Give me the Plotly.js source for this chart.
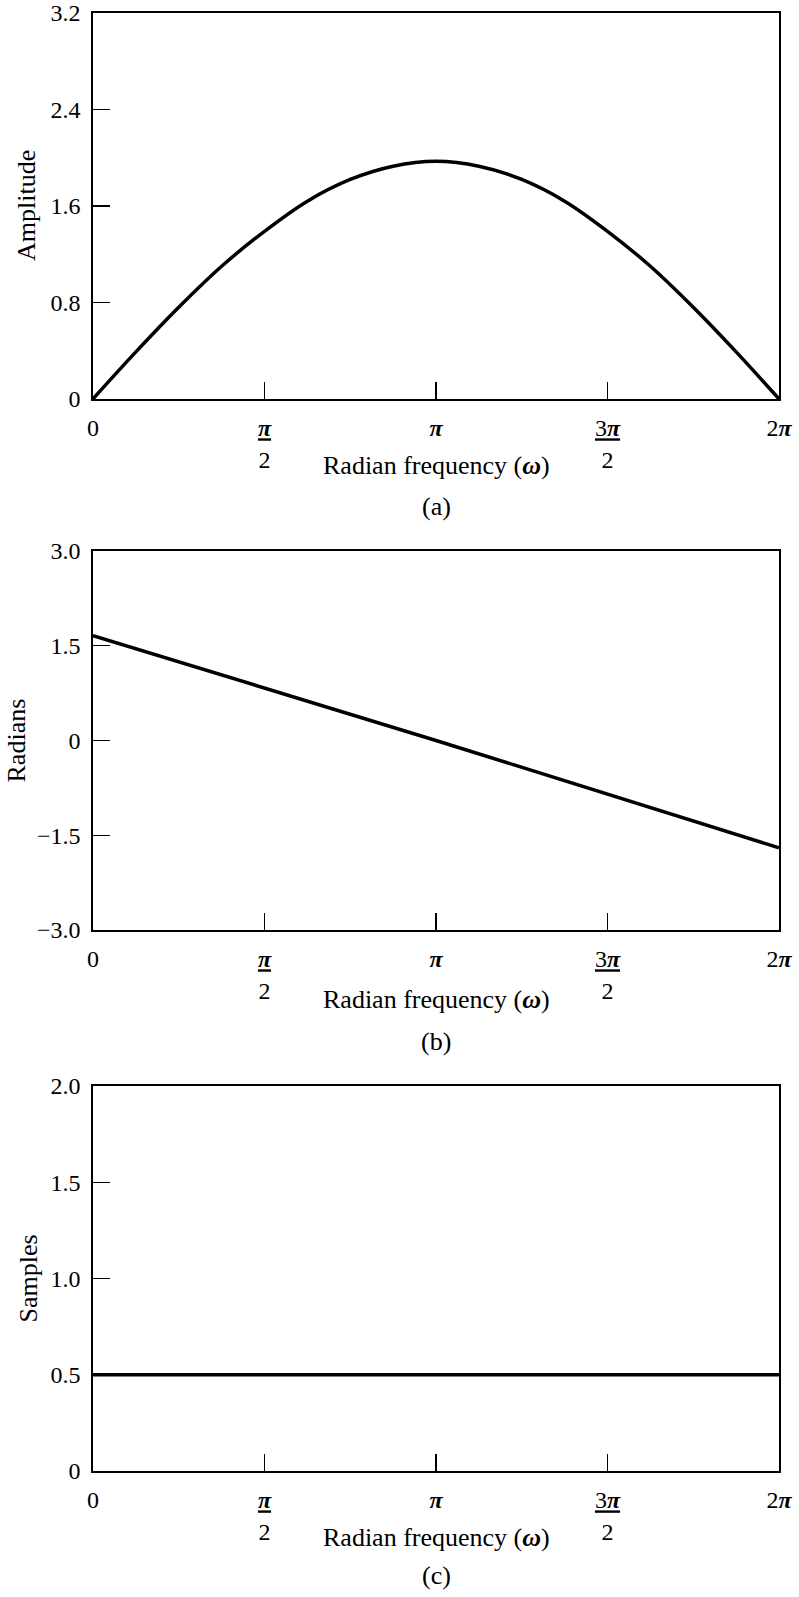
<!DOCTYPE html>
<html>
<head>
<meta charset="utf-8">
<script src="https://cdn.plot.ly/plotly-3.0.1.min.js"></script>
<style>
html,body{margin:0;padding:0;background:#fff;}
#chart{width:799px;height:1597px;}
</style>
</head>
<body>
<div id="chart"></div>
<script>
// ---- data ----
const omegaA = [0, 0.3927, 0.7854, 1.1781, 1.5708, 1.9635, 2.3562, 2.7489, 3.1416,
                3.5343, 3.9270, 4.3197, 4.7124, 5.1051, 5.4978, 5.8905, 6.2832];
const amplitude = [0, 0.39, 0.76, 1.10, 1.39, 1.64, 1.82, 1.93, 1.97,
                   1.93, 1.82, 1.64, 1.39, 1.10, 0.76, 0.39, 0];
const omegaB = [0, 3.1416, 6.2832];
const phase = [1.66, 0.0, -1.70];
const omegaC = [0, 6.2832];
const samples = [0.5, 0.5];

const xTickVals = [0, 1.5708, 3.1416, 4.7124, 6.2832];
const xTickText = ["0", "<u><b><i>π</i></b></u><br>2", "<b><i>π</i></b>",
                   "<u>3<b><i>π</i></b></u><br>2", "2<b><i>π</i></b>"];
const yValsA = [0, 0.8, 1.6, 2.4, 3.2];
const yTextA = ["0", "0.8", "1.6", "2.4", "3.2"];
const yValsB = [-3, -1.5, 0, 1.5, 3];
const yTextB = ["\u22123.0", "\u22121.5", "0", "1.5", "3.0"];
const yValsC = [0, 0.5, 1.0, 1.5, 2.0];
const yTextC = ["0", "0.5", "1.0", "1.5", "2.0"];
const yTitles = ["Amplitude", "Radians", "Samples"];
const xTitle = "Radian frequency (<b><i>ω</i></b>)";
const panelLabels = ["(a)", "(b)", "(c)"];

// ---- styling ----
const FONT = "Liberation Serif, Times New Roman, serif";
const lineStyle = {color: "#000", width: 3.5};

function xax(anchor) {
  return {
    anchor: anchor, domain: [0, 1], range: [0, 6.2832],
    tickmode: "array", tickvals: xTickVals, ticktext: xTickText,
    ticks: "inside", ticklen: 17, tickwidth: 1.3, tickcolor: "#000",
    showline: true, linecolor: "#000", linewidth: 1.6, mirror: true,
    showgrid: false, zeroline: false,
    tickfont: {family: FONT, size: 24, color: "#000"},
    ticklabelstandoff: 7
  };
}
function yax(anchor, dom, range, vals, text) {
  return {
    anchor: anchor, domain: dom, range: range,
    tickmode: "array", tickvals: vals, ticktext: text,
    ticks: "inside", ticklen: 17, tickwidth: 1.3, tickcolor: "#000",
    showline: true, linecolor: "#000", linewidth: 1.6, mirror: true,
    showgrid: false, zeroline: false,
    tickfont: {family: FONT, size: 24, color: "#000"},
    ticklabelstandoff: 6
  };
}

const traces = [
  {x: omegaA, y: amplitude, xaxis: "x", yaxis: "y", mode: "lines",
   line: Object.assign({shape: "spline"}, lineStyle), hoverinfo: "skip"},
  {x: omegaB, y: phase, xaxis: "x2", yaxis: "y2", mode: "lines",
   line: lineStyle, hoverinfo: "skip"},
  {x: omegaC, y: samples, xaxis: "x3", yaxis: "y3", mode: "lines",
   line: lineStyle, hoverinfo: "skip"}
];

const annFont = {family: FONT, size: 26, color: "#000"};
const xRefs = ["x domain", "x2 domain", "x3 domain"];
const yRefs = ["y domain", "y2 domain", "y3 domain"];
const yTitleShift = [-66, -77, -65];
const xTitleShift = [-67, -70, -66];
const labelShift = [-108, -112, -104];
const annotations = [];
for (let i = 0; i < 3; i++) {
  annotations.push({text: yTitles[i], xref: "paper", x: 0, xshift: yTitleShift[i],
    yref: yRefs[i], y: 0.5, textangle: -90, xanchor: "center", yanchor: "middle",
    showarrow: false, font: annFont});
  annotations.push({text: xTitle, xref: xRefs[i], x: 0.5, yref: yRefs[i], y: 0,
    yshift: xTitleShift[i], xanchor: "center", yanchor: "middle",
    showarrow: false, font: annFont});
  annotations.push({text: panelLabels[i], xref: xRefs[i], x: 0.5, yref: yRefs[i], y: 0,
    yshift: labelShift[i], xanchor: "center", yanchor: "middle",
    showarrow: false, font: annFont});
}

const layout = {
  width: 799, height: 1597,
  margin: {l: 93, r: 20, t: 13, b: 126},
  paper_bgcolor: "#fff", plot_bgcolor: "#fff",
  showlegend: false,
  font: {family: FONT, color: "#000"},
  xaxis: xax("y"),
  yaxis: yax("x", [0.7353, 1.0], [0, 3.2], yValsA, yTextA),
  xaxis2: xax("y2"),
  yaxis2: yax("x2", [0.3711, 0.6310], [-3, 3], yValsB, yTextB),
  xaxis3: xax("y3"),
  yaxis3: yax("x3", [0, 0.2641], [0, 2], yValsC, yTextC),
  annotations: annotations
};

Plotly.newPlot("chart", traces, layout, {staticPlot: true, displayModeBar: false});
</script>
</body>
</html>
